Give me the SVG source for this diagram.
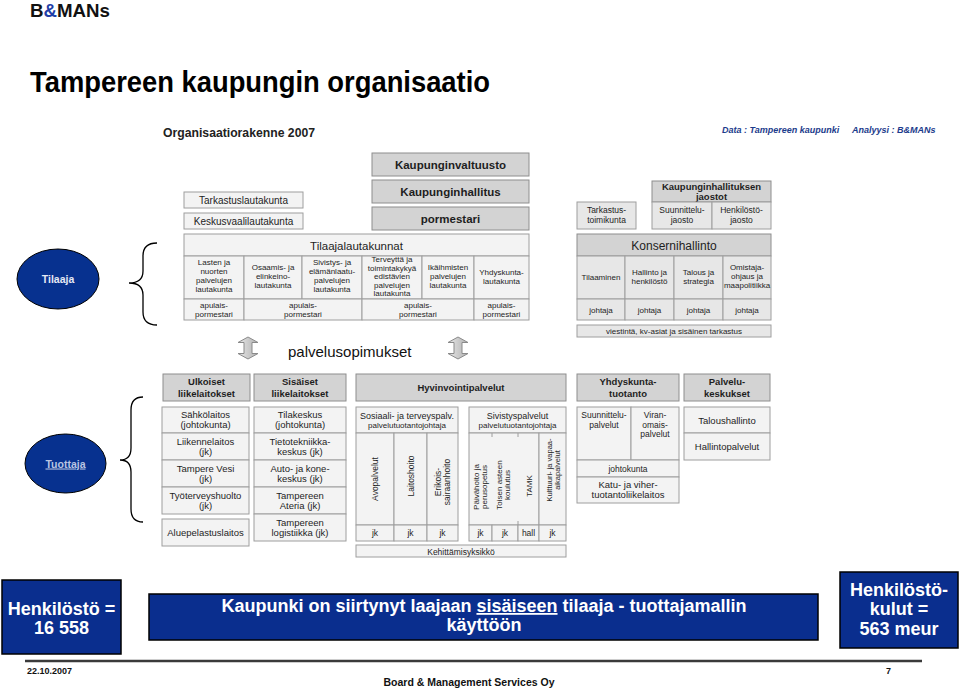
<svg xmlns="http://www.w3.org/2000/svg" width="960" height="689" viewBox="0 0 960 689">
<defs>
<style>
text{font-family:"Liberation Sans",Arial,Helvetica,sans-serif;}
.c{text-anchor:middle;fill:#1e1e1e}
.b{font-weight:bold}
.hd{fill:#d3d3d3;stroke:#8e8e8e;stroke-width:1}
.lt{fill:#f3f3f3;stroke:#9e9e9e;stroke-width:1}
.md{fill:#e7e7e7;stroke:#9e9e9e;stroke-width:1}
.f8{font-size:8px}
.f85{font-size:8.5px}
.f9{font-size:9px}
.f95{font-size:9.5px}
.f10{font-size:10px}
.f11{font-size:11.5px}
.v{font-size:8.5px}
.blue{fill:#0a2e8e;stroke:#000;stroke-width:1.5}
.w{fill:#fff;font-weight:bold;text-anchor:middle;font-size:18px}
.ell{fill:#07318f;stroke:#000;stroke-width:1}
.brace{fill:none;stroke:#000;stroke-width:1.3}
.dar{fill:url(#ag);stroke:#8a8a8a;stroke-width:1}
.tick{stroke:#9e9e9e;stroke-width:1}
.data{font-size:9px;font-style:italic;font-weight:bold;fill:#1c3c8c}
</style>
<linearGradient id="ag" x1="0" x2="1" y1="0" y2="0"><stop offset="0" stop-color="#e8e8e8"/><stop offset="1" stop-color="#b0b0b0"/></linearGradient>
</defs>
<rect x="0" y="0" width="960" height="689" fill="#fff"/>

<g id="header">
<text x="30" y="17" font-size="19" font-weight="bold" textLength="80" lengthAdjust="spacingAndGlyphs" fill="#111">B<tspan fill="#1f3fa8">&amp;</tspan>MANs</text>
<text x="30" y="92" font-size="30" font-weight="bold" textLength="460" lengthAdjust="spacingAndGlyphs" fill="#000">Tampereen kaupungin organisaatio</text>
<text x="163" y="137" font-size="12.5" font-weight="bold" textLength="152" lengthAdjust="spacingAndGlyphs" fill="#222">Organisaatiorakenne 2007</text>
<text x="722" y="133" class="data">Data : Tampereen kaupunki</text>
<text x="852" y="133" class="data">Analyysi : B&amp;MANs</text>
</g>

<!-- Tilaaja side -->
<g id="kaupunginvaltuusto"><rect class="hd" x="372" y="153" width="157" height="23"/><text class="c b f11" x="450.5" y="168.5">Kaupunginvaltuusto</text></g>
<g id="kaupunginhallitus"><rect class="hd" x="372" y="180" width="157" height="23"/><text class="c b f11" x="450.5" y="195.5">Kaupunginhallitus</text></g>
<g id="pormestari"><rect class="hd" x="372" y="207" width="157" height="23"/><text class="c b f11" x="450.5" y="222.5">pormestari</text></g>
<g id="tarkastuslautakunta"><rect class="lt" x="184" y="192" width="119" height="16"/><text class="c f10" x="243.5" y="203.5">Tarkastuslautakunta</text></g>
<g id="keskusvaalilautakunta"><rect class="lt" x="184" y="213" width="119" height="16"/><text class="c f10" x="243.5" y="224.5">Keskusvaalilautakunta</text></g>

<g id="tilaajalautakunnat">
<rect class="lt" x="184" y="234" width="345" height="22"/>
<text class="c f11" x="356.5" y="249.5">Tilaajalautakunnat</text>
<rect class="lt" x="184" y="256" width="60" height="43"/>
<rect class="lt" x="244" y="256" width="58" height="43"/>
<rect class="lt" x="302" y="256" width="60" height="43"/>
<rect class="lt" x="362" y="256" width="60" height="43"/>
<rect class="lt" x="422" y="256" width="52" height="43"/>
<rect class="lt" x="474" y="256" width="55" height="43"/>
<rect class="lt" x="184" y="299" width="60" height="21"/>
<rect class="lt" x="244" y="299" width="118" height="21"/>
<rect class="lt" x="362" y="299" width="112" height="21"/>
<rect class="lt" x="474" y="299" width="55" height="21"/>
<text class="c f8"><tspan x="214" y="265">Lasten ja</tspan><tspan x="214" y="274">nuorten</tspan><tspan x="214" y="283">palvelujen</tspan><tspan x="214" y="292">lautakunta</tspan></text>
<text class="c f8"><tspan x="273" y="270">Osaamis- ja</tspan><tspan x="273" y="279">elinkeino-</tspan><tspan x="273" y="288">lautakunta</tspan></text>
<text class="c f8"><tspan x="332" y="265">Sivistys- ja</tspan><tspan x="332" y="274">elämänlaatu-</tspan><tspan x="332" y="283">palvelujen</tspan><tspan x="332" y="292">lautakunta</tspan></text>
<text class="c f8"><tspan x="392" y="262">Terveyttä ja</tspan><tspan x="392" y="270.5">toimintakykyä</tspan><tspan x="392" y="279">edistävien</tspan><tspan x="392" y="287.5">palvelujen</tspan><tspan x="392" y="296">lautakunta</tspan></text>
<text class="c f8"><tspan x="448" y="270">Ikäihmisten</tspan><tspan x="448" y="279">palvelujen</tspan><tspan x="448" y="288">lautakunta</tspan></text>
<text class="c f8"><tspan x="501.5" y="275">Yhdyskunta-</tspan><tspan x="501.5" y="284">lautakunta</tspan></text>
<text class="c f8"><tspan x="214" y="308">apulais-</tspan><tspan x="214" y="317">pormestari</tspan></text>
<text class="c f8"><tspan x="303" y="308">apulais-</tspan><tspan x="303" y="317">pormestari</tspan></text>
<text class="c f8"><tspan x="418" y="308">apulais-</tspan><tspan x="418" y="317">pormestari</tspan></text>
<text class="c f8"><tspan x="501.5" y="308">apulais-</tspan><tspan x="501.5" y="317">pormestari</tspan></text>
</g>

<g id="tarkastustoimikunta"><rect class="md" x="577" y="202" width="59" height="27"/><text class="c f85"><tspan x="606.5" y="213">Tarkastus-</tspan><tspan x="606.5" y="222.5">toimikunta</tspan></text></g>

<g id="kh-jaostot">
<rect class="hd" x="652" y="181" width="119" height="21"/>
<text class="c b" font-size="9.5"><tspan x="711.5" y="190">Kaupunginhallituksen</tspan><tspan x="711.5" y="199.5">jaostot</tspan></text>
<rect class="md" x="652" y="202" width="60" height="27"/>
<rect class="md" x="712" y="202" width="59" height="27"/>
<text class="c f85"><tspan x="682" y="213">Suunnittelu-</tspan><tspan x="682" y="222.5">jaosto</tspan></text>
<text class="c f85"><tspan x="741.5" y="213">Henkilöstö-</tspan><tspan x="741.5" y="222.5">jaosto</tspan></text>
</g>

<g id="konsernihallinto">
<rect class="hd" x="577" y="234" width="194" height="22"/>
<text class="c" x="674" y="249.5" font-size="12">Konsernihallinto</text>
<rect class="md" x="577" y="256" width="48" height="43"/>
<rect class="md" x="625" y="256" width="49" height="43"/>
<rect class="md" x="674" y="256" width="49" height="43"/>
<rect class="md" x="723" y="256" width="48" height="43"/>
<rect class="md" x="577" y="299" width="48" height="21"/>
<rect class="md" x="625" y="299" width="49" height="21"/>
<rect class="md" x="674" y="299" width="49" height="21"/>
<rect class="md" x="723" y="299" width="48" height="21"/>
<text class="c f8" x="601" y="280">Tilaaminen</text>
<text class="c f8"><tspan x="649.5" y="275">Hallinto ja</tspan><tspan x="649.5" y="284">henkilöstö</tspan></text>
<text class="c f8"><tspan x="698.5" y="275">Talous ja</tspan><tspan x="698.5" y="284">strategia</tspan></text>
<text class="c f8"><tspan x="747" y="270">Omistaja-</tspan><tspan x="747" y="279">ohjaus ja</tspan><tspan x="747" y="288">maapolitiikka</tspan></text>
<text class="c f8" x="601" y="313">johtaja</text>
<text class="c f8" x="649.5" y="313">johtaja</text>
<text class="c f8" x="698.5" y="313">johtaja</text>
<text class="c f8" x="747" y="313">johtaja</text>
</g>
<g id="viestinta"><rect class="md" x="577" y="325" width="194" height="12"/><text class="c f8" x="674" y="334">viestintä, kv-asiat ja sisäinen tarkastus</text></g>

<g id="palvelusopimukset"><text x="288" y="357" font-size="15" fill="#111">palvelusopimukset</text></g>

<!-- Tuottaja side -->
<g id="ulkoiset">
<rect class="hd" x="163" y="374" width="87" height="27"/>
<text class="c b f95"><tspan x="206.5" y="385">Ulkoiset</tspan><tspan x="206.5" y="396.5">liikelaitokset</tspan></text>
<rect class="lt" x="162" y="407" width="87" height="26"/>
<rect class="lt" x="162" y="433" width="87" height="27"/>
<rect class="lt" x="162" y="460" width="87" height="27"/>
<rect class="lt" x="162" y="487" width="87" height="27"/>
<rect class="lt" x="162" y="519" width="87" height="27"/>
<text class="c f95"><tspan x="205.5" y="418">Sähkölaitos</tspan><tspan x="205.5" y="428">(johtokunta)</tspan></text>
<text class="c f95"><tspan x="205.5" y="444.5">Liikennelaitos</tspan><tspan x="205.5" y="454.5">(jk)</tspan></text>
<text class="c f95"><tspan x="205.5" y="471.5">Tampere Vesi</tspan><tspan x="205.5" y="481.5">(jk)</tspan></text>
<text class="c f95"><tspan x="205.5" y="498.5">Työterveyshuolto</tspan><tspan x="205.5" y="508.5">(jk)</tspan></text>
<text class="c f95" x="205.5" y="536">Aluepelastuslaitos</text>
</g>

<g id="sisaiset">
<rect class="hd" x="254" y="374" width="92" height="27"/>
<text class="c b f95"><tspan x="300" y="385">Sisäiset</tspan><tspan x="300" y="396.5">liikelaitokset</tspan></text>
<rect class="lt" x="254" y="407" width="92" height="26"/>
<rect class="lt" x="254" y="433" width="92" height="27"/>
<rect class="lt" x="254" y="460" width="92" height="27"/>
<rect class="lt" x="254" y="487" width="92" height="27"/>
<rect class="lt" x="254" y="514" width="92" height="27"/>
<text class="c f95"><tspan x="300" y="418">Tilakeskus</tspan><tspan x="300" y="428">(johtokunta)</tspan></text>
<text class="c f95"><tspan x="300" y="444.5">Tietotekniikka-</tspan><tspan x="300" y="454.5">keskus (jk)</tspan></text>
<text class="c f95"><tspan x="300" y="471.5">Auto- ja kone-</tspan><tspan x="300" y="481.5">keskus (jk)</tspan></text>
<text class="c f95"><tspan x="300" y="498.5">Tampereen</tspan><tspan x="300" y="508.5">Ateria (jk)</tspan></text>
<text class="c f95"><tspan x="300" y="525.5">Tampereen</tspan><tspan x="300" y="535.5">logistiikka (jk)</tspan></text>
</g>

<g id="hyvinvointipalvelut">
<rect class="hd" x="356" y="374" width="210" height="27"/>
<text class="c b f95" x="461" y="391">Hyvinvointipalvelut</text>
</g>

<g id="sosiaali-terveyspalvelut">
<rect class="lt" x="356" y="407" width="102" height="26"/>
<text class="c f9" x="407" y="418.5">Sosiaali- ja terveyspalv.</text>
<text class="c f8" x="407" y="428">palvelutuotantojohtaja</text>
<rect class="lt" x="356" y="433" width="38" height="92"/>
<rect class="lt" x="394" y="433" width="33" height="92"/>
<rect class="lt" x="427" y="433" width="31" height="92"/>
<rect class="lt" x="356" y="525" width="38" height="16"/>
<rect class="lt" x="394" y="525" width="33" height="16"/>
<rect class="lt" x="427" y="525" width="31" height="16"/>
<text class="c v" transform="translate(375,479) rotate(-90)" x="0" y="3">Avopalvelut</text>
<text class="c v" transform="translate(410.5,476) rotate(-90)" x="0" y="3">Laitoshoito</text>
<text class="c v" transform="translate(442.5,482) rotate(-90)"><tspan x="0" y="-1.5">Erikois-</tspan><tspan x="0" y="7">sairaanhoito</tspan></text>
<text class="c f85" x="375" y="536">jk</text>
<text class="c f85" x="410.5" y="536">jk</text>
<text class="c f85" x="442.5" y="536">jk</text>
</g>

<g id="sivistyspalvelut">
<rect class="lt" x="469" y="407" width="97" height="26"/>
<text class="c f9" x="517.5" y="418.5">Sivistyspalvelut</text>
<text class="c f8" x="517.5" y="428">palvelutuotantojohtaja</text>
<rect class="lt" x="469" y="433" width="70" height="92"/>
<rect class="lt" x="539" y="433" width="27" height="92"/>
<line class="tick" x1="492" y1="433" x2="492" y2="437"/>
<line class="tick" x1="518" y1="433" x2="518" y2="437"/>
<line class="tick" x1="518" y1="521" x2="518" y2="525"/>
<rect class="lt" x="469" y="525" width="23" height="16"/>
<rect class="lt" x="492" y="525" width="26" height="16"/>
<rect class="lt" x="518" y="525" width="21" height="16"/>
<rect class="lt" x="539" y="525" width="27" height="16"/>
<text class="c" font-size="8" transform="translate(480,487) rotate(-90)"><tspan x="0" y="-1">Päivähoito ja</tspan><tspan x="0" y="7">perusopetus</tspan></text>
<text class="c" font-size="8" transform="translate(503,485) rotate(-90)"><tspan x="0" y="-1">Toisen asteen</tspan><tspan x="0" y="7">koulutus</tspan></text>
<text class="c" font-size="8" transform="translate(528.5,486) rotate(-90)" x="0" y="3">TAMK</text>
<text class="c" font-size="7.5" transform="translate(552.5,470) rotate(-90)"><tspan x="0" y="-1">Kulttuuri- ja vapaa-</tspan><tspan x="0" y="7">aikapalvelut</tspan></text>
<text class="c f85" x="480.5" y="536">jk</text>
<text class="c f85" x="505" y="536">jk</text>
<text class="c f85" x="528.5" y="536">hall</text>
<text class="c f85" x="552.5" y="536">jk</text>
</g>

<g id="kehittamisyksikko"><rect class="lt" x="356" y="545" width="210" height="12"/><text class="c f85" x="461" y="554.5">Kehittämisyksikkö</text></g>

<g id="yhdyskuntatuotanto">
<rect class="hd" x="577" y="374" width="102" height="27"/>
<text class="c b f95"><tspan x="628" y="385">Yhdyskunta-</tspan><tspan x="628" y="396.5">tuotanto</tspan></text>
<rect class="lt" x="577" y="407" width="54" height="53"/>
<rect class="lt" x="631" y="407" width="48" height="53"/>
<rect class="lt" x="577" y="460" width="102" height="17"/>
<rect class="lt" x="577" y="477" width="102" height="26"/>
<text class="c f85"><tspan x="604" y="418">Suunnittelu-</tspan><tspan x="604" y="427.5">palvelut</tspan></text>
<text class="c f85"><tspan x="655" y="418">Viran-</tspan><tspan x="655" y="427.5">omais-</tspan><tspan x="655" y="437">palvelut</tspan></text>
<text class="c f85" x="628" y="471.5">johtokunta</text>
<text class="c f95"><tspan x="628" y="488">Katu- ja viher-</tspan><tspan x="628" y="498">tuotantoliikelaitos</tspan></text>
</g>

<g id="palvelukeskukset">
<rect class="hd" x="684" y="374" width="86" height="27"/>
<text class="c b f95"><tspan x="727" y="385">Palvelu-</tspan><tspan x="727" y="396.5">keskukset</tspan></text>
<rect class="lt" x="684" y="407" width="86" height="26"/>
<rect class="lt" x="684" y="433" width="86" height="27"/>
<text class="c f95" x="727" y="423.5">Taloushallinto</text>
<text class="c f95" x="727" y="450">Hallintopalvelut</text>
</g>

<g id="tilaaja"><ellipse class="ell" cx="58" cy="279" rx="41" ry="30"/><text x="58" y="283" text-anchor="middle" font-size="10.5" font-weight="bold" fill="#e4e8f4">Tilaaja</text></g>
<g id="tuottaja"><ellipse class="ell" cx="65.5" cy="463.5" rx="40.5" ry="29.5"/><text x="65.5" y="467.5" text-anchor="middle" font-size="10.5" font-weight="bold" fill="#b9c5e2" text-decoration="underline">Tuottaja</text></g>

<g id="connectors">
<path class="brace" d="M157,243 Q143,243 143,256 L143,271 Q143,283 129,283 Q143,283 143,295 L143,312 Q143,325 157,325"/>
<path class="brace" d="M143,397 Q131,397 131,410 L131,448 Q131,460 120,460 Q131,460 131,472 L131,509 Q131,522 143,522"/>
<polygon class="dar" points="248,337 258,342.5 252,342.5 252,353.5 258,353.5 248,359 238,353.5 244,353.5 244,342.5 238,342.5"/>
<polygon class="dar" points="458,337 468,342.5 462,342.5 462,353.5 468,353.5 458,359 448,353.5 454,353.5 454,342.5 448,342.5"/>
</g>

<g id="henkilosto">
<rect class="blue" x="2" y="580" width="119" height="74"/>
<text class="w"><tspan x="61.5" y="615">Henkilöstö =</tspan><tspan x="61.5" y="634">16 558</tspan></text>
</g>
<g id="viesti">
<rect class="blue" x="149" y="594" width="669" height="46"/>
<text class="w"><tspan x="484" y="612">Kaupunki on siirtynyt laajaan <tspan text-decoration="underline">sisäiseen</tspan> tilaaja - tuottajamallin</tspan><tspan x="484" y="631">käyttöön</tspan></text>
</g>
<g id="henkilostokulut">
<rect class="blue" x="840" y="572" width="118" height="76"/>
<text class="w"><tspan x="899" y="596">Henkilöstö-</tspan><tspan x="899" y="615">kulut =</tspan><tspan x="899" y="635">563 meur</tspan></text>
</g>

<g id="footer">
<line x1="25" y1="661" x2="922" y2="661" stroke="#3a3a3a" stroke-width="2.5"/>
<text x="27" y="674" font-size="9" font-weight="bold" fill="#111">22.10.2007</text>
<text x="886" y="674" font-size="9" font-weight="bold" fill="#111">7</text>
<text x="469" y="686" text-anchor="middle" font-size="10.5" font-weight="bold" fill="#111">Board &amp; Management Services Oy</text>
</g>
</svg>
